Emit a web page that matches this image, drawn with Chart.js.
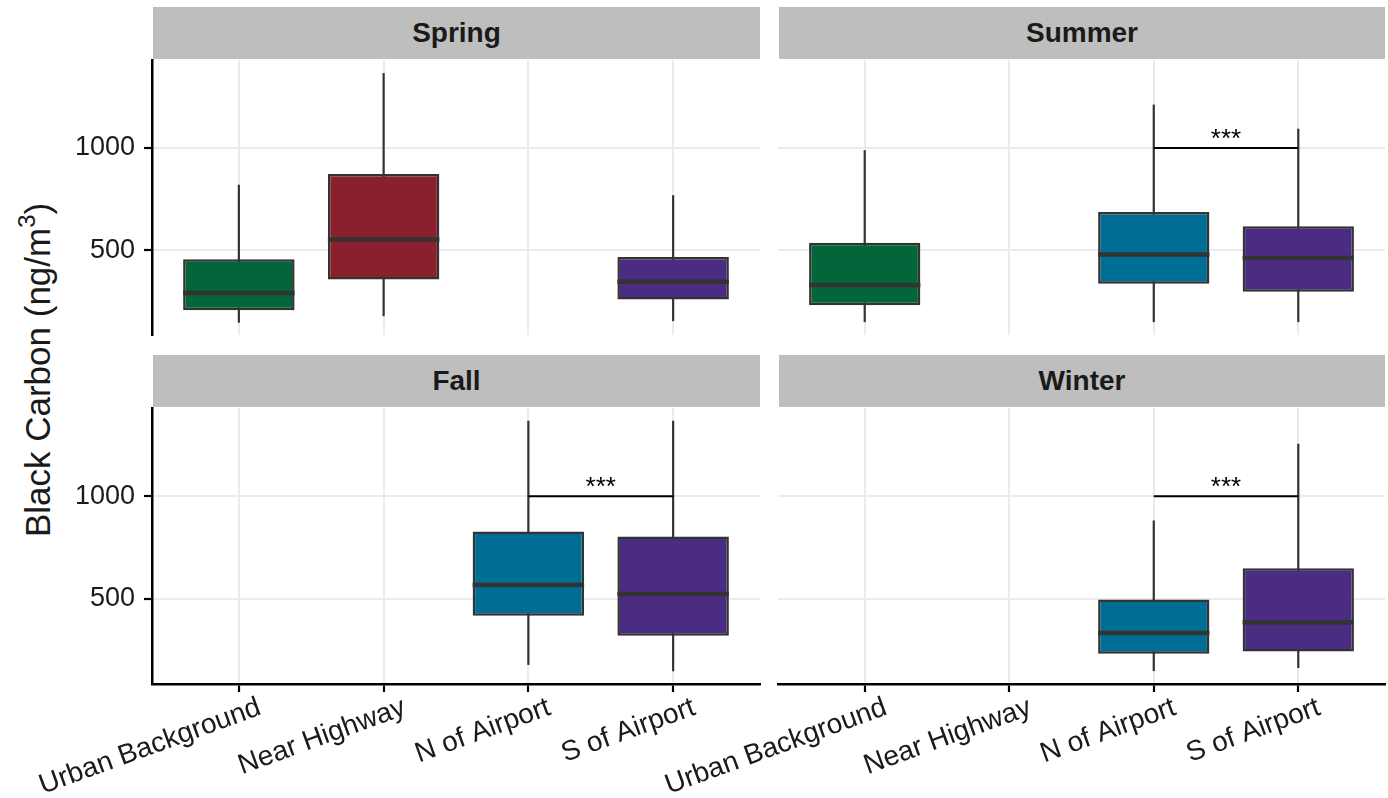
<!DOCTYPE html>
<html>
<head>
<meta charset="utf-8">
<title>Black Carbon by site and season</title>
<script src="https://cdn.jsdelivr.net/npm/chart.js@4.4.1/dist/chart.umd.min.js"></script>
<style>
  html, body { margin: 0; padding: 0; background: #ffffff; }
  #wrap { position: relative; width: 1388px; height: 798px; overflow: hidden;
          font-family: 'Liberation Sans', Arial, Helvetica, sans-serif; }
  #wrap canvas { position: absolute; left: 0; top: 0; }
  .strip { position: absolute; background: #bebebe; color: #1a1a1a; font-weight: bold;
           font-size: 28px; display: flex; align-items: center; justify-content: center; }
  #ytitle { position: absolute; left: 37px; top: 370px; white-space: nowrap; color: #1a1a1a;
            font-size: 35px; line-height: 1; transform: translate(-50%, -50%) rotate(-90deg); }
  #ytitle sup { font-size: 0.68em; vertical-align: 0.62em; line-height: 0; }
</style>
</head>
<body>
<div id="wrap">
  <div id="ytitle">Black Carbon (ng/m<sup>3</sup>)</div>
</div>
<script>
// Sites along the x axis, and the fill used for each
const categories = ['Urban Background', 'Near Highway', 'N of Airport', 'S of Airport'];
const boxColors = ['#03663a', '#8a1f2d', '#006d94', '#4a2d82'];

// Facet titles
const seasons = ['Spring', 'Summer', 'Fall', 'Winter'];

// Box statistics per site: [lower whisker, Q1, median, Q3, upper whisker]; null = no samples
const spring = [[145, 206, 290, 455, 820], [177, 357, 552, 873, 1366], null, [153, 259, 345, 467, 769]];
const summer = [[148, 231, 329, 536, 989], null, [148, 336, 479, 687, 1212], [148, 296, 462, 617, 1094]];
const fall   = [null, null, [178, 418, 567, 828, 1368], [147, 320, 523, 804, 1368]];
const winter = [null, null, [148, 233, 333, 497, 882], [163, 243, 386, 649, 1256]];

// Pairwise comparison brackets per season
const signifPairs = [null, ['N of Airport', 'S of Airport'], ['N of Airport', 'S of Airport'], ['N of Airport', 'S of Airport']];
const signifLevel = 1000;
const signifLabel = '***';

// Shared value axis
const yTicks = [500, 1000];
const yRange = [85, 1430];

const seasonBoxes = [spring, summer, fall, winter];

// Panel rectangles on the page (plot area, in px)
const W = 1388, H = 798;
const panels = [
  { left: 152, right: 760,  top: 60,  bottom: 335, yAxis: true,  xAxis: false },
  { left: 778, right: 1385, top: 60,  bottom: 335, yAxis: false, xAxis: false },
  { left: 152, right: 760,  top: 408, bottom: 684, yAxis: true,  xAxis: true  },
  { left: 778, right: 1385, top: 408, bottom: 684, yAxis: false, xAxis: true  }
];

Chart.defaults.font.family = "'Liberation Sans', Arial, Helvetica, sans-serif";
Chart.defaults.color = '#1a1a1a';

// Median bars across each box
const medianLines = {
  id: 'medianLines',
  afterDatasetsDraw(chart, args, opts) {
    const meta = chart.getDatasetMeta(1);
    const yScale = chart.scales.y;
    const ctx = chart.ctx;
    ctx.save();
    ctx.strokeStyle = '#333333';
    ctx.lineWidth = 4.5;
    meta.data.forEach((bar, j) => {
      const p = bar.getProps(['x', 'width'], true);
      const py = yScale.getPixelForValue(opts.medians[j]);
      ctx.beginPath();
      ctx.moveTo(p.x - p.width / 2, py);
      ctx.lineTo(p.x + p.width / 2, py);
      ctx.stroke();
    });
    ctx.restore();
  }
};

// Significance bracket with its star label
const signifBracket = {
  id: 'signifBracket',
  afterDatasetsDraw(chart, args, opts) {
    if (!opts.pair) return;
    const xScale = chart.scales.x, yScale = chart.scales.y;
    const x1 = xScale.getPixelForValue(categories.indexOf(opts.pair[0]) + 1);
    const x2 = xScale.getPixelForValue(categories.indexOf(opts.pair[1]) + 1);
    const py = yScale.getPixelForValue(opts.level);
    const ctx = chart.ctx;
    ctx.save();
    ctx.strokeStyle = '#000000';
    ctx.lineWidth = 2;
    ctx.beginPath();
    ctx.moveTo(x1, py);
    ctx.lineTo(x2, py);
    ctx.stroke();
    ctx.fillStyle = '#000000';
    ctx.font = "26px 'Liberation Sans', Arial, sans-serif";
    ctx.textAlign = 'center';
    ctx.textBaseline = 'alphabetic';
    ctx.fillText(opts.label, (x1 + x2) / 2, py - 1);
    ctx.restore();
  }
};

const wrap = document.getElementById('wrap');

panels.forEach((p, i) => {
  // facet strip
  const strip = document.createElement('div');
  strip.className = 'strip';
  strip.style.left = (p.left + 1) + 'px';
  strip.style.top = (p.top - 53) + 'px';
  strip.style.width = (p.right - p.left - 1) + 'px';
  strip.style.height = '52px';
  strip.textContent = seasons[i];
  wrap.appendChild(strip);

  const canvas = document.createElement('canvas');
  canvas.width = W;
  canvas.height = H;
  wrap.appendChild(canvas);

  const rows = seasonBoxes[i];
  const present = rows.map((r, k) => (r ? k : -1)).filter(k => k >= 0);
  const xAxisHeight = p.xAxis ? H - p.bottom : 0;

  new Chart(canvas, {
    type: 'bar',
    data: {
      datasets: [
        {
          label: 'whiskers',
          data: present.map(k => ({ x: k + 1, y: [rows[k][0], rows[k][4]] })),
          backgroundColor: '#333333',
          borderWidth: 0,
          grouped: false,
          maxBarThickness: 2.2,
          order: 2
        },
        {
          label: 'boxes',
          data: present.map(k => ({ x: k + 1, y: [rows[k][1], rows[k][3]] })),
          backgroundColor: present.map(k => boxColors[k]),
          borderColor: '#333333',
          borderWidth: 2.5,
          borderSkipped: false,
          grouped: false,
          barPercentage: 0.77,
          categoryPercentage: 1,
          order: 1
        }
      ]
    },
    options: {
      responsive: false,
      animation: false,
      events: [],
      layout: {
        padding: {
          left: 0,
          right: W - p.right,
          top: p.top,
          bottom: p.xAxis ? 0 : H - p.bottom
        }
      },
      plugins: {
        legend: { display: false },
        tooltip: { enabled: false },
        medianLines: { medians: present.map(k => rows[k][2]) },
        signifBracket: { pair: signifPairs[i], level: signifLevel, label: signifLabel }
      },
      scales: {
        x: {
          type: 'linear',
          min: 0.4,
          max: 4.6,
          bounds: 'data',
          offset: false,
          grid: {
            offset: false,
            color: '#ebebeb',
            lineWidth: 2,
            drawTicks: p.xAxis,
            tickLength: 8,
            tickColor: '#000000',
            tickWidth: 2.2
          },
          border: { display: p.xAxis, color: '#000000', width: 2.5 },
          ticks: {
            display: p.xAxis,
            autoSkip: false,
            minRotation: 20,
            maxRotation: 20,
            padding: -1,
            labelOffset: 21,
            color: '#1a1a1a',
            font: { size: 28 },
            callback: v => categories[Math.round(v) - 1] || ''
          },
          afterBuildTicks: s => { s.ticks = categories.map((c, k) => ({ value: k + 1 })); },
          afterFit: s => {
            s.height = xAxisHeight;
            s.paddingLeft = 0; s.paddingRight = 0; s.paddingTop = 0; s.paddingBottom = 0;
          }
        },
        y: {
          type: 'linear',
          min: yRange[0],
          max: yRange[1],
          bounds: 'data',
          grid: {
            color: '#ebebeb',
            lineWidth: 2,
            drawTicks: p.yAxis,
            tickLength: 8,
            tickColor: '#000000',
            tickWidth: 2.2
          },
          border: { display: p.yAxis, color: '#000000', width: 2.5 },
          ticks: {
            display: p.yAxis,
            padding: 9,
            color: '#1a1a1a',
            font: { size: 27 },
            callback: v => String(v)
          },
          afterBuildTicks: s => { s.ticks = yTicks.map(v => ({ value: v })); },
          afterFit: s => {
            s.width = p.left;
            s.paddingLeft = 0; s.paddingRight = 0; s.paddingTop = 0; s.paddingBottom = 0;
          }
        }
      }
    },
    plugins: [medianLines, signifBracket]
  });
});
</script>
</body>
</html>
